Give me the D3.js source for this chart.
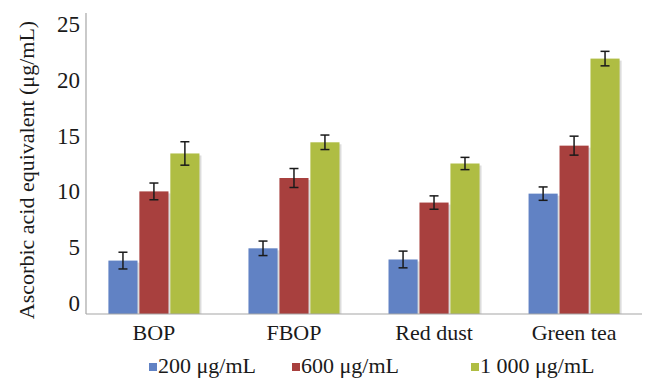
<!DOCTYPE html>
<html>
<head>
<meta charset="utf-8">
<script src="https://cdn.jsdelivr.net/npm/d3@7"></script>
<style>
  body { margin: 0; background: #fff; }
</style>
</head>
<body>
<div id="chart-area"></div>
<script>
const categories = ["BOP", "FBOP", "Red dust", "Green tea"];
const seriesNames = ["200 μg/mL", "600 μg/mL", "1 000 μg/mL"];
const colors = ["#6182c4", "#a8403e", "#afbd43"];
const values200 = [3.8, 4.9, 3.9, 9.8];
const values600 = [10.0, 11.2, 9.0, 14.1];
const values1000 = [13.4, 14.4, 12.5, 21.9];
const err200 = [0.75, 0.65, 0.75, 0.6];
const err600 = [0.75, 0.85, 0.6, 0.85];
const err1000 = [1.05, 0.65, 0.55, 0.65];
const yTicks = [0, 5, 10, 15, 20, 25];

const WIDTH = 646, HEIGHT = 380;
const PLOT = { LEFT: 86, RIGHT: 642, TOP: 13, BASE: 314 };
const FONT = "'Liberation Serif'";
const INK = "#1a1a1a";

const seriesVals = [values200, values600, values1000];
const seriesErr = [err200, err600, err1000];
const data = categories.map((c, i) => ({
  cat: c,
  bars: seriesNames.map((s, j) => ({ s, j, v: seriesVals[j][i], e: seriesErr[j][i] }))
}));

const svg = d3.select("#chart-area").append("svg")
  .attr("width", WIDTH)
  .attr("height", HEIGHT);

const x = d3.scaleBand()
  .domain(categories)
  .range([PLOT.LEFT, PLOT.RIGHT])
  .paddingInner(0.35)
  .paddingOuter(0.16);

const xs = d3.scaleBand()
  .domain(seriesNames)
  .range([0, x.bandwidth()])
  .paddingInner(0.06);

// tick labels sit a bit above the drawn baseline in the original
const y = d3.scaleLinear()
  .domain([0, 25])
  .range([303, 24]);

// y tick labels
svg.append("g").selectAll("text")
  .data(yTicks)
  .enter().append("text")
    .attr("x", 80)
    .attr("y", d => y(d))
    .attr("dy", "0.35em")
    .attr("text-anchor", "end")
    .style("font-family", FONT)
    .style("font-size", "23px")
    .style("fill", INK)
    .text(d => d);

// y title
svg.append("text")
  .attr("transform", `translate(34, 170) rotate(-90)`)
  .attr("text-anchor", "middle")
  .style("font-family", FONT)
  .style("font-size", "22px")
  .style("fill", INK)
  .text("Ascorbic acid equivalent (μg/mL)");

// bars
const groups = svg.selectAll(".grp").data(data)
  .enter().append("g")
    .attr("class", "grp")
    .attr("transform", d => `translate(${x(d.cat)},0)`);

// soft shadow to the right like the original
groups.selectAll(".shadow").data(d => d.bars)
  .enter().append("rect")
    .attr("x", d => xs(d.s) + 2)
    .attr("y", d => y(d.v) + 2)
    .attr("width", xs.bandwidth())
    .attr("height", d => PLOT.BASE - y(d.v) - 2)
    .attr("fill", "#dcdcdc");

groups.selectAll(".bar").data(d => d.bars)
  .enter().append("rect")
    .attr("class", "bar")
    .attr("x", d => xs(d.s))
    .attr("y", d => y(d.v))
    .attr("width", xs.bandwidth())
    .attr("height", d => PLOT.BASE - y(d.v))
    .attr("fill", d => colors[d.j]);

// error bars
const eb = groups.selectAll(".err").data(d => d.bars)
  .enter().append("g")
    .attr("class", "err")
    .attr("stroke", INK)
    .attr("stroke-width", 1.5);
const cx = d => xs(d.s) + xs.bandwidth() / 2;
eb.append("line")
  .attr("x1", cx).attr("x2", cx)
  .attr("y1", d => y(d.v + d.e)).attr("y2", d => y(d.v - d.e));
eb.append("line")
  .attr("x1", d => cx(d) - 4.5).attr("x2", d => cx(d) + 4.5)
  .attr("y1", d => y(d.v + d.e)).attr("y2", d => y(d.v + d.e));
eb.append("line")
  .attr("x1", d => cx(d) - 4.5).attr("x2", d => cx(d) + 4.5)
  .attr("y1", d => y(d.v - d.e)).attr("y2", d => y(d.v - d.e));

// axis lines
svg.append("line")
  .attr("x1", PLOT.LEFT).attr("x2", PLOT.LEFT)
  .attr("y1", PLOT.TOP).attr("y2", PLOT.BASE)
  .attr("stroke", "#a6a6a6").attr("stroke-width", 1.2);
svg.append("line")
  .attr("x1", PLOT.LEFT).attr("x2", PLOT.RIGHT)
  .attr("y1", PLOT.BASE).attr("y2", PLOT.BASE)
  .attr("stroke", "#a6a6a6").attr("stroke-width", 1.2);

// x labels
svg.append("g").selectAll("text")
  .data(categories)
  .enter().append("text")
    .attr("x", d => x(d) + x.bandwidth() / 2)
    .attr("y", 340)
    .attr("text-anchor", "middle")
    .style("font-family", FONT)
    .style("font-size", "22px")
    .style("fill", INK)
    .text(d => d);

// legend
const legendX = [149, 292, 471];
const leg = svg.append("g").selectAll("g")
  .data(seriesNames)
  .enter().append("g")
    .attr("transform", (d, i) => `translate(${legendX[i]}, 373)`);
leg.append("rect")
  .attr("x", 0).attr("y", -10)
  .attr("width", 8).attr("height", 8)
  .attr("fill", (d, i) => colors[i]);
leg.append("text")
  .attr("x", 9)
  .attr("y", 0)
  .style("font-family", FONT)
  .style("font-size", "22px")
  .style("fill", INK)
  .text(d => d);
</script>
</body>
</html>
